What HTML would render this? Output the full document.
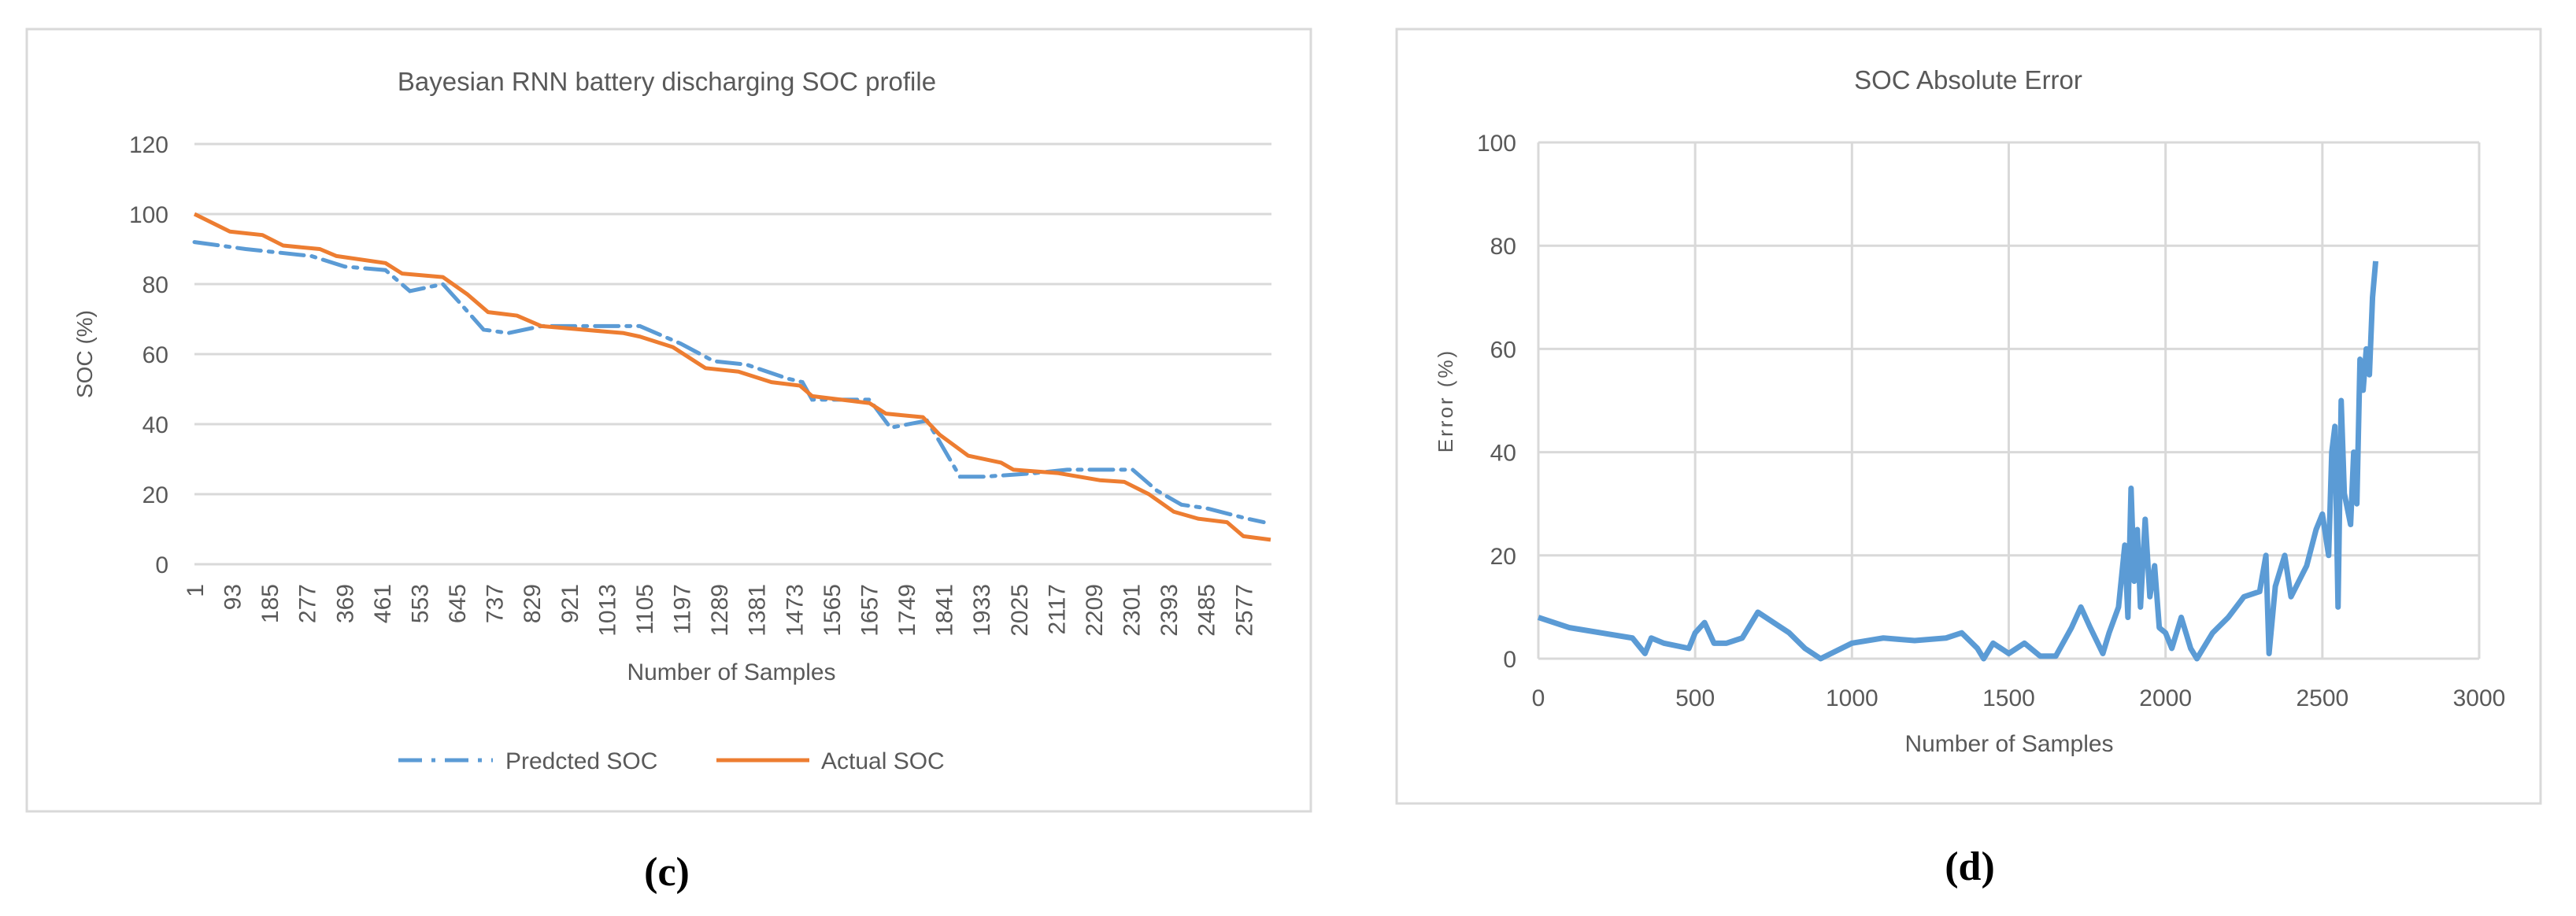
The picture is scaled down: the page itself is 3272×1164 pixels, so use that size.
<!DOCTYPE html>
<html><head><meta charset="utf-8"><style>
html,body{margin:0;padding:0;background:#fff;}
svg{display:block;font-family:"Liberation Sans",sans-serif;}
</style></head><body>
<svg id="fig" width="3272" height="1164" viewBox="0 0 3272 1164">
<rect x="34" y="37" width="1631" height="994" fill="#fff" stroke="#d9d9d9" stroke-width="3"/>
<rect x="1774" y="37" width="1453" height="984" fill="#fff" stroke="#d9d9d9" stroke-width="3"/>
<text x="847" y="115" font-size="33" fill="#595959" text-anchor="middle">Bayesian RNN battery discharging SOC profile</text>
<text x="2500" y="113" font-size="33" fill="#595959" text-anchor="middle">SOC Absolute Error</text>
<text x="117" y="450" font-size="28" fill="#595959" text-anchor="middle" transform="rotate(-90 117 450)">SOC (%)</text>
<text x="929" y="864" font-size="30" fill="#595959" text-anchor="middle">Number of Samples</text>
<text x="1845" y="509" font-size="26" fill="#595959" text-anchor="middle" letter-spacing="3" transform="rotate(-90 1845 509)">Error (%)</text>
<text x="2552" y="955" font-size="30" fill="#595959" text-anchor="middle">Number of Samples</text>
<g>
<line x1="506" y1="966" x2="626" y2="966" stroke="#5b9bd5" stroke-width="5" stroke-dasharray="30,12,5,12"/>
<text x="642" y="977" font-size="30" fill="#595959">Predcted SOC</text>
<line x1="910" y1="966" x2="1028" y2="966" stroke="#ed7d31" stroke-width="5"/>
<text x="1043" y="977" font-size="30" fill="#595959">Actual SOC</text>
</g>
<text x="847" y="1125" font-size="52" font-weight="bold" font-family="Liberation Serif, serif" text-anchor="middle">(c)</text>
<text x="2502" y="1118" font-size="52" font-weight="bold" font-family="Liberation Serif, serif" text-anchor="middle">(d)</text>
<g id="gc"></g><g id="gd"></g>
</svg>
<script>
// Chart (c) data
const cTicks=[0,20,40,60,80,100,120];
const cCats=[1,93,185,277,369,461,553,645,737,829,921,1013,1105,1197,1289,1381,1473,1565,1657,1749,1841,1933,2025,2117,2209,2301,2393,2485,2577];
const actX=[1,88,168,219,309,350,470,511,611,672,722,793,853,1055,1095,1176,1256,1337,1418,1488,1518,1659,1699,1790,1831,1901,1982,2012,2123,2224,2285,2345,2406,2466,2537,2577,2644];
const actY=[100,95,94,91,90,88,86,83,82,77,72,71,68,66,65,62,56,55,52,51,48,46,43,42,37,31,29,27,26,24,23.5,20,15,13,12,8,7];
const predX=[1,127,288,370,470,530,611,650,711,772,853,1095,1195,1276,1357,1458,1494,1518,1659,1710,1800,1831,1881,1942,2063,2144,2305,2365,2425,2486,2587,2627];
const predY=[92,90,88,85,84,78,80,75,67,66,68,68,63,58,57,53,52,47,47,39,41,35,25,25,26,27,27,21,17,16,13,12];
// Chart (d) data
const dXTicks=[0,500,1000,1500,2000,2500,3000];
const dYTicks=[0,20,40,60,80,100];
const errX=[0,100,200,300,340,360,400,480,500,530,560,600,650,700,750,800,850,900,1000,1100,1200,1300,1350,1400,1420,1450,1500,1550,1600,1650,1700,1730,1760,1800,1820,1850,1870,1880,1890,1900,1910,1920,1935,1950,1965,1980,2000,2020,2050,2080,2100,2150,2200,2250,2300,2320,2330,2350,2380,2400,2450,2480,2500,2520,2530,2540,2550,2560,2570,2590,2600,2610,2620,2630,2640,2650,2660,2670];
const errY=[8,6,5,4,1,4,3,2,5,7,3,3,4,9,7,5,2,0,3,4,3.5,4,5,2,0,3,1,3,0.5,0.5,6,10,6,1,5,10,22,8,33,15,25,10,27,12,18,6,5,2,8,2,0,5,8,12,13,20,1,14,20,12,18,25,28,20,40,45,10,50,32,26,40,30,58,52,60,55,70,77];

const NS='http://www.w3.org/2000/svg';
function mk(p,tag,a){const e=document.createElementNS(NS,tag);for(const k in a)e.setAttribute(k,a[k]);p.appendChild(e);return e;}
const cx0=247,cx1=1615,cy0=717,cy1=183,cN=2645;
const cxs=i=>cx0+(i-1)/cN*(cx1-cx0);
const cys=v=>cy0-v/120*(cy0-cy1);
const gc=document.getElementById('gc');
cTicks.forEach(t=>{
 const l=mk(gc,'line',{x1:cx0,x2:cx1,y1:cys(t),y2:cys(t),stroke:'#d9d9d9','stroke-width':3});
 
 
 const tx=mk(gc,'text',{x:214,y:cys(t)+11,'font-size':30,fill:'#595959','text-anchor':'end'});tx.textContent=t;
 
 
});
cCats.forEach(c=>{
 const x=cxs(c)+11;
 const tx=mk(gc,'text',{x:x,y:742,'font-size':30,fill:'#595959','text-anchor':'end',transform:`rotate(-90 ${x} 742)`});tx.textContent=c;
 
 
});
const pp=mk(gc,'polyline',{points:predX.map((x,i)=>cxs(x)+','+cys(predY[i])).join(' '),fill:'none',stroke:'#5b9bd5','stroke-width':5,'stroke-dasharray':'30,10,5,10','stroke-linecap':'round'});


const ap=mk(gc,'polyline',{points:actX.map((x,i)=>cxs(x)+','+cys(actY[i])).join(' '),fill:'none',stroke:'#ed7d31','stroke-width':5,'stroke-linejoin':'round'});


const dx0=1954,dx1=3149,dy0=837,dy1=181;
const dxs=v=>dx0+v/3000*(dx1-dx0);
const dys=v=>dy0-v/100*(dy0-dy1);
const gd=document.getElementById('gd');
dYTicks.forEach(t=>{
 const l=mk(gd,'line',{x1:dx0,x2:dx1,y1:dys(t),y2:dys(t),stroke:'#d9d9d9','stroke-width':3});
 
 
 const tx=mk(gd,'text',{x:1926,y:dys(t)+11,'font-size':30,fill:'#595959','text-anchor':'end'});tx.textContent=t;
 
 
});
dXTicks.forEach(t=>{
 const l=mk(gd,'line',{x1:dxs(t),x2:dxs(t),y1:dy0,y2:dy1,stroke:'#d9d9d9','stroke-width':3});
 
 
 const tx=mk(gd,'text',{x:dxs(t),y:897,'font-size':30,fill:'#595959','text-anchor':'middle'});tx.textContent=t;
 
 
});
const ep=mk(gd,'polyline',{points:errX.map((x,i)=>dxs(x)+','+dys(errY[i])).join(' '),fill:'none',stroke:'#5b9bd5','stroke-width':7,'stroke-linejoin':'round'});


</script>
</body></html>
